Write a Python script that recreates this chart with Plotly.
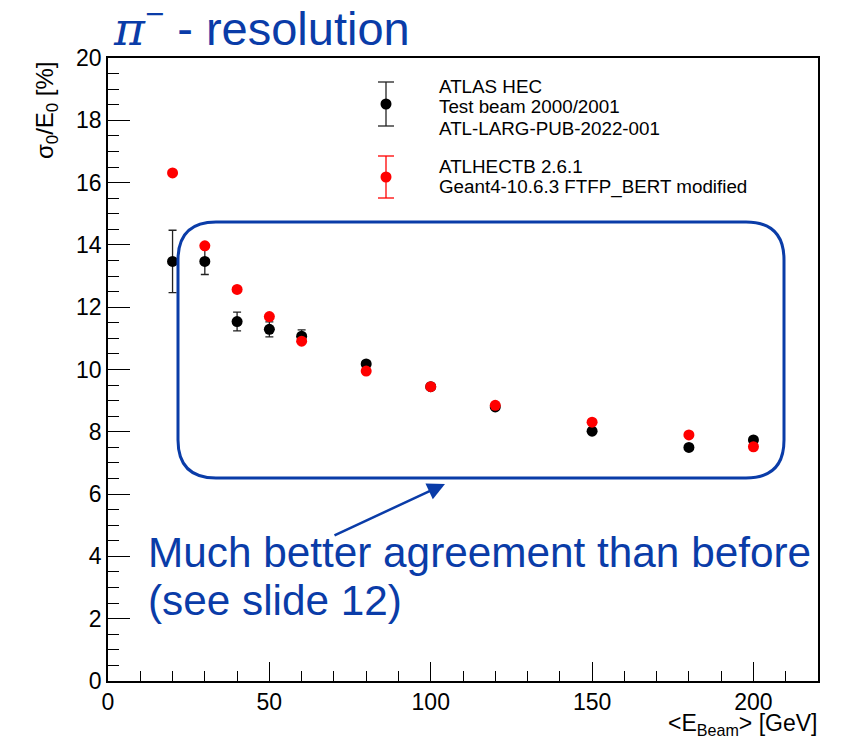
import plotly.graph_objects as go

# Beam energies [GeV]
energy = [20, 30, 40, 50, 60, 80, 100, 120, 150, 180, 200]

# Test beam 2000/2001 resolution sigma0/E0 [%] and uncertainties
tb_res = [13.47, 13.47, 11.54, 11.29, 11.07, 10.18, 9.45, 8.80, 8.02, 7.50, 7.74]
tb_err = [1.00, 0.42, 0.30, 0.24, 0.20, 0.10, 0.08, 0.08, 0.08, 0.08, 0.08]

# ATLHECTB 2.6.1 simulation resolution sigma0/E0 [%]
sim_res = [16.31, 13.97, 12.57, 11.70, 10.91, 9.95, 9.45, 8.85, 8.31, 7.90, 7.52]
sim_err = [0.05, 0.05, 0.05, 0.05, 0.05, 0.05, 0.05, 0.05, 0.05, 0.05, 0.05]

W, H = 844, 738
ML, MR, MT, MB = 108, 26, 58, 57
PW, PH = W - ML - MR, H - MT - MB
BLUE = "#0a3ca8"
FONT = "Liberation Sans, Arial, Helvetica, sans-serif"


def px(x):
    return (x - ML) / PW


def py(y):
    return (H - MB - y) / PH


fig = go.Figure()
fig.add_trace(go.Scatter(
    x=energy, y=tb_res, mode="markers",
    marker=dict(color="black", size=11),
    error_y=dict(type="data", array=tb_err, color="#222222", thickness=1.3, width=4),
    showlegend=False,
))
fig.add_trace(go.Scatter(
    x=energy, y=sim_res, mode="markers",
    marker=dict(color="#ff0000", size=11),
    error_y=dict(type="data", array=sim_err, color="#ff0000", thickness=1.3, width=4),
    showlegend=False,
))

shapes = []
annotations = []

# rounded box around the high-energy points
bx0, bx1, by0, by1, r = 178, 784, 222, 478, 38
path = (
    f"M {px(bx0 + r)} {py(by0)} L {px(bx1 - r)} {py(by0)} "
    f"Q {px(bx1)} {py(by0)} {px(bx1)} {py(by0 + r)} "
    f"L {px(bx1)} {py(by1 - r)} "
    f"Q {px(bx1)} {py(by1)} {px(bx1 - r)} {py(by1)} "
    f"L {px(bx0 + r)} {py(by1)} "
    f"Q {px(bx0)} {py(by1)} {px(bx0)} {py(by1 - r)} "
    f"L {px(bx0)} {py(by0 + r)} "
    f"Q {px(bx0)} {py(by0)} {px(bx0 + r)} {py(by0)} Z"
)
shapes.append(dict(type="path", path=path, xref="paper", yref="paper",
                   line=dict(color=BLUE, width=3)))

# legend symbols: marker with error bar
for cx, cy, half, col, fill in [(386, 104, 22, "#222222", "black"),
                                (386, 177, 21, "#ff0000", "#ff0000")]:
    shapes.append(dict(type="line", xref="paper", yref="paper",
                       x0=px(cx), x1=px(cx), y0=py(cy - half), y1=py(cy + half),
                       line=dict(color=col, width=1.3)))
    for yy in (cy - half, cy + half):
        shapes.append(dict(type="line", xref="paper", yref="paper",
                           x0=px(cx - 8), x1=px(cx + 8), y0=py(yy), y1=py(yy),
                           line=dict(color=col, width=1.3)))
    shapes.append(dict(type="circle", xref="paper", yref="paper",
                       xsizemode="pixel", ysizemode="pixel",
                       xanchor=px(cx), yanchor=py(cy),
                       x0=-5.5, x1=5.5, y0=-5.5, y1=5.5,
                       fillcolor=fill, line=dict(width=0)))

legend_lines = [
    ("ATLAS HEC", 84),
    ("Test beam 2000/2001", 105),
    ("ATL-LARG-PUB-2022-001", 126),
    ("ATLHECTB 2.6.1", 164),
    ("Geant4-10.6.3 FTFP_BERT modified", 185),
]
for txt, yc in legend_lines:
    annotations.append(dict(text=txt, xref="paper", yref="paper",
                            x=px(437), y=py(yc + 2), xanchor="left", yanchor="middle",
                            showarrow=False, font=dict(family=FONT, size=18.8, color="black")))

# title
annotations.append(dict(
    text='<span style="font-family:DejaVu Serif;font-style:italic">π</span><sup>−</sup> - resolution',
    xref="paper", yref="paper", x=px(111), y=py(26), xanchor="left", yanchor="middle",
    showarrow=False, font=dict(family=FONT, size=47, color=BLUE)))

# comment text and arrow
annotations.append(dict(text="Much better agreement than before", xref="paper", yref="paper",
                        x=px(146), y=py(552), xanchor="left", yanchor="middle",
                        showarrow=False, font=dict(family=FONT, size=42.3, color=BLUE)))
annotations.append(dict(text="(see slide 12)", xref="paper", yref="paper",
                        x=px(146), y=py(600), xanchor="left", yanchor="middle",
                        showarrow=False, font=dict(family=FONT, size=42.3, color=BLUE)))
annotations.append(dict(text="", xref="paper", yref="paper", x=px(445), y=py(484),
                        ax=333 - 445, ay=536 - 484, showarrow=True,
                        arrowhead=2, arrowsize=1.4, arrowwidth=2.5, arrowcolor=BLUE,
                        standoff=0, startstandoff=0))

# axis titles
annotations.append(dict(text="σ<sub>0</sub>/E<sub>0</sub> [%]", xref="paper", yref="paper",
                        x=px(46), y=py(59), xanchor="center", yanchor="top", textangle=-90,
                        showarrow=False, font=dict(family=FONT, size=24, color="black")))
annotations.append(dict(text="&lt;E<sub>Beam</sub>&gt; [GeV]", xref="paper", yref="paper",
                        x=px(819), y=py(724), xanchor="right", yanchor="middle",
                        showarrow=False, font=dict(family=FONT, size=23, color="black")))

axis_common = dict(
    showgrid=False, zeroline=False, showline=True, linecolor="black", linewidth=1.5,
    mirror=True, ticks="inside", tickcolor="black", tickwidth=1.3,
    tickfont=dict(family=FONT, size=23, color="black"),
)
fig.update_xaxes(range=[0, 220], dtick=50, tick0=0, ticklen=19,
                 minor=dict(dtick=10, ticks="inside", ticklen=10, tickcolor="black", tickwidth=1.3),
                 **axis_common)
fig.update_yaxes(range=[0, 20], dtick=2, tick0=0, ticklen=22,
                 minor=dict(dtick=0.5, ticks="inside", ticklen=11, tickcolor="black", tickwidth=1.3),
                 **axis_common)

fig.update_layout(
    width=W, height=H, margin=dict(l=ML, r=MR, t=MT, b=MB),
    paper_bgcolor="white", plot_bgcolor="white",
    shapes=shapes, annotations=annotations, showlegend=False,
)
fig.write_html("out.html")
